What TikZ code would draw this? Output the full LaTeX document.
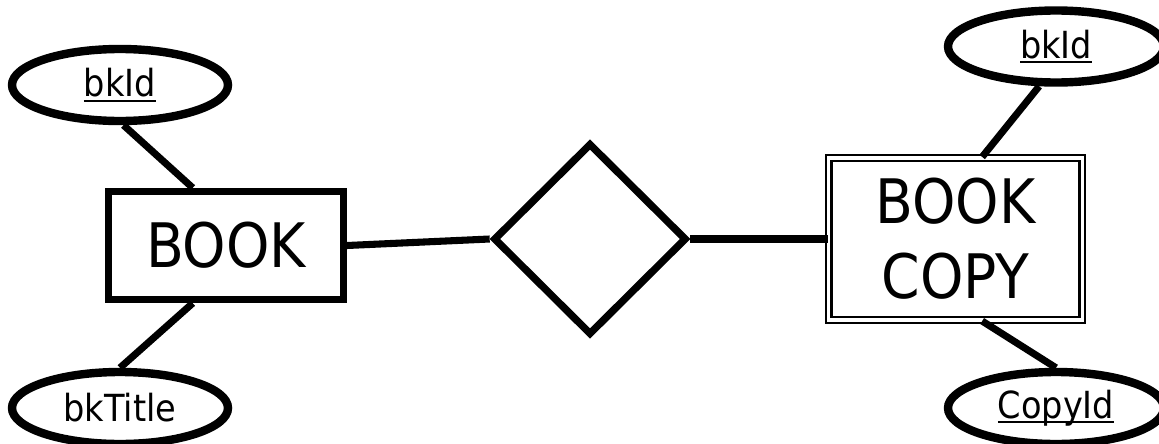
\documentclass[tikz,border=0pt]{standalone}
\usepackage{fontspec}
\setmainfont{DejaVu Sans Condensed}
\usetikzlibrary{shapes.geometric, positioning}
\newcommand{\keyattr}[1]{\setbox0\hbox{#1}\rlap{\raisebox{-3.8pt}{\rule{\wd0}{1.5pt}}}\box0}

\begin{document}
\begin{tikzpicture}[
  x=0.75pt, y=-0.75pt,
  entity/.style={rectangle, draw, line width=5.5pt, minimum width=176pt, minimum height=81pt, inner sep=0pt, font=\fontsize{46}{54}\selectfont},
  weakentity/.style={rectangle, draw, double, line width=1.6pt, double distance=2.4pt, minimum width=190pt, minimum height=121.5pt, inner sep=0pt, align=center, font=\fontsize{46}{56}\selectfont},
  attrib/.style={ellipse, draw, line width=6.3pt, minimum width=162pt, minimum height=54pt, inner sep=0pt, font=\fontsize{28}{33}\selectfont},
  relship/.style={diamond, draw, line width=5.5pt, minimum width=145pt, minimum height=144pt, inner sep=0pt},
  link/.style={line width=5.3pt},
]
  \useasboundingbox (0,0) rectangle (1159,443);
  \clip (0,0) rectangle (1159,443);

  \node[entity] (book) at (226,245.5) {BOOK};
  \node[relship] (has) at (590,239) {};
  \node[weakentity] (copy) at (955.5,239) {BOOK\\COPY};

  \node[attrib] (bookid) at (120,85) {\keyattr{bkId}};
  \node[attrib] (title) at (120,408) {bkTitle};
  \node[attrib] (copybkid) at (1056,46.5) {\keyattr{bkId}};
  \node[attrib] (copyid) at (1056,408) {\keyattr{CopyId}};

  \draw[link] (bookid.-85) -- (book.120);
  \draw[link] (book.-120) -- (title.north);
  \draw[link] (book.east) -- (has.west);
  \draw[link] (has.east) -- (copy.west);
  \draw[link] (copybkid.-113) -- (copy.72);
  \draw[link] (copy.-72) -- (copyid.north);
\end{tikzpicture}
\end{document}
